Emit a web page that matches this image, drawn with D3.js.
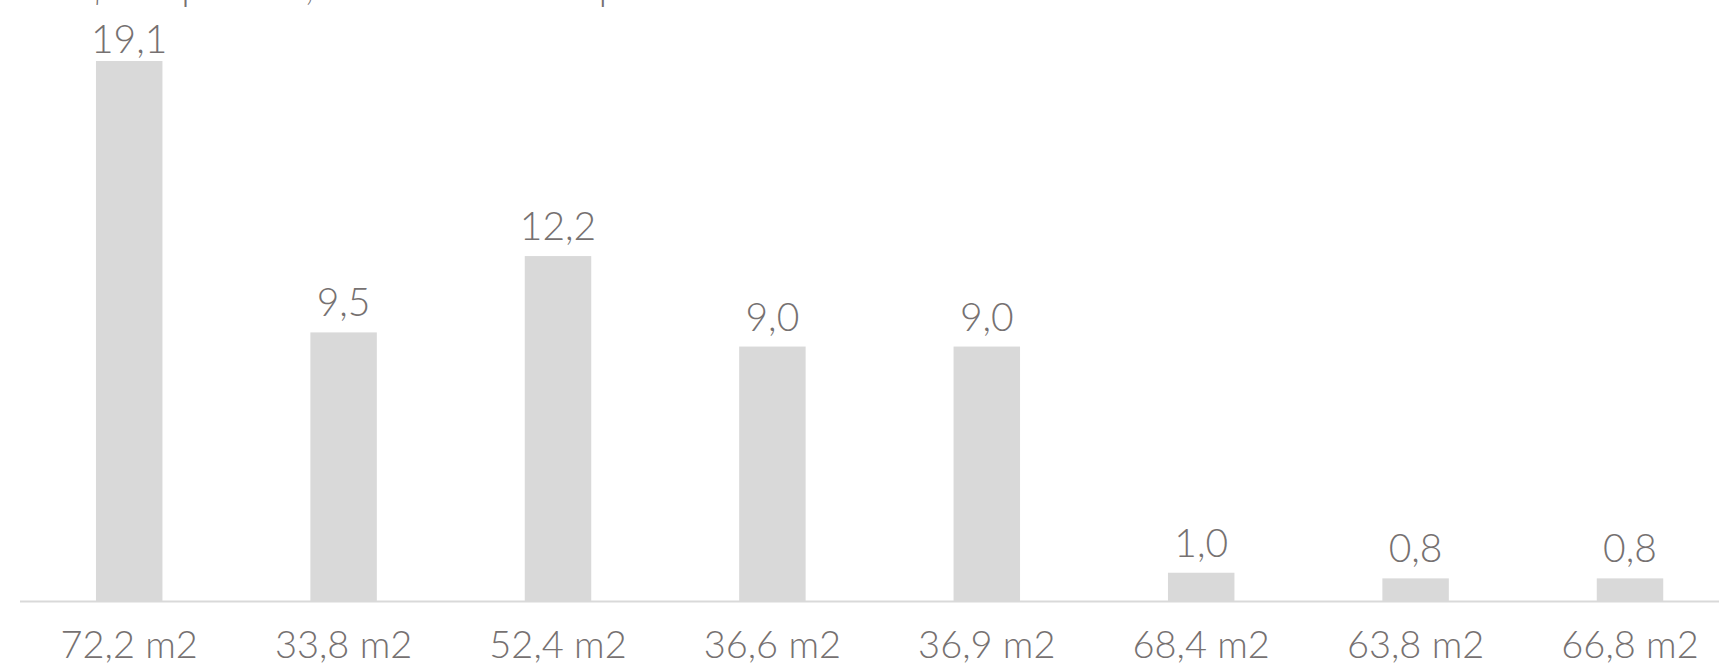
<!DOCTYPE html>
<html>
<head>
<meta charset="utf-8">
<script src="https://cdn.jsdelivr.net/npm/d3@7"></script>
<style>
  html, body { margin: 0; padding: 0; background: #fff; overflow: hidden; }
  svg { display: block; }
  text { font-family: Lato, "Noto Sans", sans-serif; font-weight: 300; fill: #767171; }
</style>
</head>
<body>
<svg id="chart" width="1719" height="665"></svg>
<script>
// Área de cada imóvel (eixo) e valor do metro quadrado (barras)
const categories = ["72,2 m2", "33,8 m2", "52,4 m2", "36,6 m2", "36,9 m2", "68,4 m2", "63,8 m2", "66,8 m2"];
const values = [19.1, 9.5, 12.2, 9.0, 9.0, 1.0, 0.8, 0.8];
const title = "R$ mil por m2, área em metro quadrado";

const W = 1719, H = 665;
const baseY = 601;
const plotTop = 61;

const svg = d3.select("#chart");

const x = d3.scaleBand()
  .domain(categories)
  .range([22, 22 + 8 * 214.4])
  .paddingInner(0.69)
  .paddingOuter(0.345);

const y = d3.scaleLinear()
  .domain([0, 19.1])
  .range([baseY, plotTop]);

const fmt = v => d3.format(".1f")(v).replace(".", ",");

const data = categories.map((c, i) => ({ c, v: values[i] }));

// título (cortado no topo)
svg.append("text")
  .attr("x", 62)
  .attr("y", 0)
  .attr("font-size", 40)
  .text(title);

// barras
svg.append("g").selectAll("rect")
  .data(data)
  .join("rect")
  .attr("x", d => x(d.c))
  .attr("width", x.bandwidth())
  .attr("y", d => y(d.v))
  .attr("height", d => baseY - y(d.v))
  .attr("fill", "#D9D9D9");

// linha do eixo
svg.append("line")
  .attr("x1", 20).attr("x2", W)
  .attr("y1", baseY + 0.5).attr("y2", baseY + 0.5)
  .attr("stroke", "#D9D9D9")
  .attr("stroke-width", 2);

// rótulos de valor
svg.append("g").selectAll("text")
  .data(data)
  .join("text")
  .attr("x", d => x(d.c) + x.bandwidth() / 2)
  .attr("y", d => Math.max(y(d.v) - 16, 53))
  .attr("text-anchor", "middle")
  .attr("font-size", 39)
  .text(d => fmt(d.v));

// rótulos do eixo
svg.append("g").selectAll("text")
  .data(categories)
  .join("text")
  .attr("x", d => x(d) + x.bandwidth() / 2)
  .attr("y", 658)
  .attr("text-anchor", "middle")
  .attr("font-size", 38)
  .text(d => d);
</script>
</body>
</html>
